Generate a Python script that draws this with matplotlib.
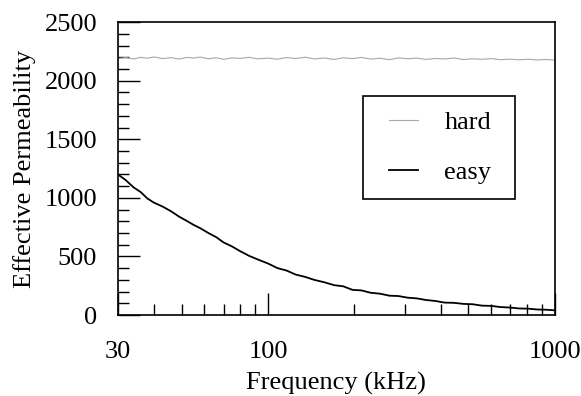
import matplotlib.pyplot as plt
from matplotlib.lines import Line2D
from matplotlib.legend_handler import HandlerLine2D
from matplotlib.ticker import FixedLocator, NullFormatter

plt.rcParams['font.family'] = ['Liberation Serif', 'DejaVu Serif']
plt.rcParams['font.size'] = 19

# easy axis
freq_easy = [30, 32, 34, 36, 38, 40, 43, 46, 49, 52, 55, 58, 62, 66, 70, 75, 80, 86, 92,
             100, 108, 116, 125, 135, 145, 157, 170, 183, 197, 212, 228, 246, 265, 285,
             307, 330, 356, 383, 413, 445, 480, 517, 557, 600, 646, 696, 750, 808, 870,
             937, 1000]
perm_easy = [1200, 1150, 1090, 1050, 995, 960, 925, 885, 840, 805, 770, 742, 700, 665, 620,
             585, 545, 505, 475, 440, 400, 380, 345, 325, 300, 280, 255, 245, 215, 210,
             190, 182, 165, 162, 148, 142, 128, 120, 106, 104, 95, 92, 80, 78, 68, 64,
             56, 54, 47, 45, 40]

# hard axis
freq_hard = [30, 32, 34, 36, 38, 40, 43, 46, 49, 52, 55, 58, 62, 66, 70, 75, 80, 86, 92,
             100, 108, 116, 125, 135, 145, 157, 170, 183, 197, 212, 228, 246, 265, 285,
             307, 330, 356, 383, 413, 445, 480, 517, 557, 600, 646, 696, 750, 808, 870,
             937, 1000]
perm_hard = [2190, 2198, 2186, 2200, 2192, 2203, 2189, 2197, 2185, 2199, 2194, 2202, 2188,
             2196, 2183, 2195, 2191, 2200, 2187, 2193, 2184, 2198, 2190, 2201, 2186, 2194,
             2182, 2196, 2189, 2199, 2185, 2192, 2180, 2195, 2188, 2193, 2182, 2190, 2186,
             2194, 2181, 2187, 2183, 2189, 2180, 2184, 2179, 2183, 2178, 2181, 2177]

fig = plt.figure(figsize=(5.81, 3.96), dpi=100)
ax = fig.add_axes([0.203, 0.2045, 0.752, 0.7395])

ax.plot(freq_hard, perm_hard, color='#a8a8a8', lw=0.8, label='hard')
ax.plot(freq_easy, perm_easy, color='black', lw=1.3, label='easy')

ax.set_xscale('log')
ax.set_xlim(30, 1000)
ax.set_ylim(0, 2500)

ax.xaxis.set_major_locator(FixedLocator([30, 100, 1000]))
ax.set_xticklabels(['30', '100', '1000'])
ax.xaxis.set_minor_locator(FixedLocator([40, 50, 60, 70, 80, 90, 200, 300, 400, 500,
                                         600, 700, 800, 900]))
ax.xaxis.set_minor_formatter(NullFormatter())
ax.set_yticks([0, 500, 1000, 1500, 2000, 2500])
ax.yaxis.set_minor_locator(FixedLocator(range(0, 2501, 100)))

ax.tick_params(which='both', direction='in', top=False, right=False, width=1)
ax.tick_params(which='major', length=16)
ax.tick_params(which='minor', length=8)
ax.tick_params(axis='x', pad=19)
ax.tick_params(axis='y', pad=15)
for sp in ax.spines.values():
    sp.set_linewidth(1.2)

ax.set_xlabel('Frequency (kHz)', labelpad=6)
ax.set_ylabel('Effective Permeability', labelpad=6)

leg = ax.legend(loc='upper left', bbox_to_anchor=(0.5606, 0.3974, 0.3478, 0.35),
                mode='expand', frameon=True, fancybox=False, edgecolor='black',
                framealpha=1, handlelength=1.54, handletextpad=1.0, labelspacing=1.0,
                borderpad=0.55, borderaxespad=0,
                handler_map={Line2D: HandlerLine2D(xpad=0.45)})
leg.get_frame().set_linewidth(1.2)

fig.savefig('out.png', dpi=100)
